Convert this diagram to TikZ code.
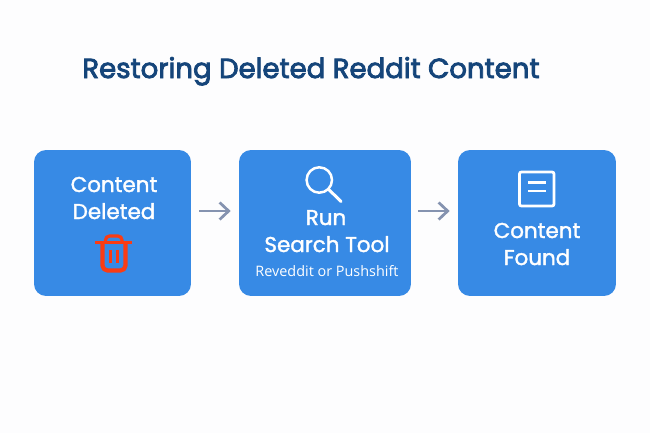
\documentclass[tikz,border=0pt]{standalone}
\usepackage{fontspec}
\setmainfont{Open Sans}
\newfontfamily\titlefont[FakeBold=3]{Poppins}
\newfontfamily\labelfont[FakeBold=1.6]{Poppins}
\usetikzlibrary{arrows.meta}
\definecolor{boxblue}{HTML}{378AE5}
\definecolor{titleblue}{HTML}{15457A}
\definecolor{arrowgray}{HTML}{8593B0}
\definecolor{trashred}{HTML}{FA3C14}
\definecolor{pagebg}{HTML}{FDFDFE}
\tikzset{
  stepbox/.style={fill=boxblue, rounded corners=0.24cm, minimum height=2.92cm, inner sep=0pt},
  boxtext/.style={text=white, font=\labelfont\fontsize{12.2}{12.2}\selectfont, inner sep=0pt, anchor=base},
  subtext/.style={text=white, font=\fontsize{8.2}{8.2}\selectfont, inner sep=0pt, anchor=base},
  flowarrow/.style={draw=arrowgray, line width=0.055cm, -{Straight Barb[length=0.18cm,width=0.34cm]}},
  whiteicon/.style={draw=white, line width=0.05cm},
  trashicon/.style={draw=trashred, line width=0.085cm, line join=round}
}
\begin{document}
\begin{tikzpicture}[x=0.02cm,y=-0.02cm]
	% background
	\fill[pagebg] (0,0) rectangle (650,433);
	\useasboundingbox (0,0) rectangle (650,433);
	% title
	\node[anchor=base west, inner sep=0pt, text=titleblue, font=\titlefont\fontsize{15.7}{15.7}\selectfont] (title) at (82,78) {Restoring Deleted Reddit Content};
	% boxes
	\node[stepbox, minimum width=3.14cm] (deleted) at (112.5,223) {};
	\node[stepbox, minimum width=3.44cm] (search) at (325,223) {};
	\node[stepbox, minimum width=3.16cm] (found) at (537,223) {};
	% labels
	\node[boxtext] (deleted1) at (114,192) {Content};
	\node[boxtext] (deleted2) at (114,219) {Deleted};
	\node[boxtext] (search1) at (326,225) {Run};
	\node[boxtext] (search2) at (327,252) {Search Tool};
	\node[subtext] (search3) at (327,276) {Reveddit or Pushshift};
	\node[boxtext] (found1) at (537,238) {Content};
	\node[boxtext] (found2) at (537,265) {Found};
	% arrows
	\draw[flowarrow] ([yshift=0.24cm,xshift=0.16cm]deleted.east) -- ([yshift=0.24cm,xshift=-0.16cm]search.west);
	\draw[flowarrow] ([yshift=0.24cm,xshift=0.14cm]search.east) -- ([yshift=0.24cm,xshift=-0.16cm]found.west);
	% trash can
	\draw[trashicon, line width=0.065cm] (95,242.5) -- (132,242.5);
	\draw[trashicon, line width=0.065cm, rounded corners=0.08cm] (105.5,242) -- (105.5,236) -- (122,236) -- (122,242);
	\draw[trashicon, rounded corners=0.1cm] (102.5,243) -- (102.5,270.5) -- (125.5,270.5) -- (125.5,243);
	\draw[trashicon, line width=0.06cm] (110.2,250) -- (110.2,263) (117.2,250) -- (117.2,263);
	% magnifier
	\draw[whiteicon] (319.3,180) circle (12.7);
	\draw[whiteicon, line width=0.06cm, line cap=round] (329.3,190) -- (341,201.5);
	% document
	\draw[whiteicon, line width=0.055cm, rounded corners=0.04cm] (519.5,172) rectangle (554,206);
	\draw[whiteicon, line width=0.05cm] (528,182.5) -- (546,182.5) (528,191) -- (546,191);
\end{tikzpicture}
\end{document}
